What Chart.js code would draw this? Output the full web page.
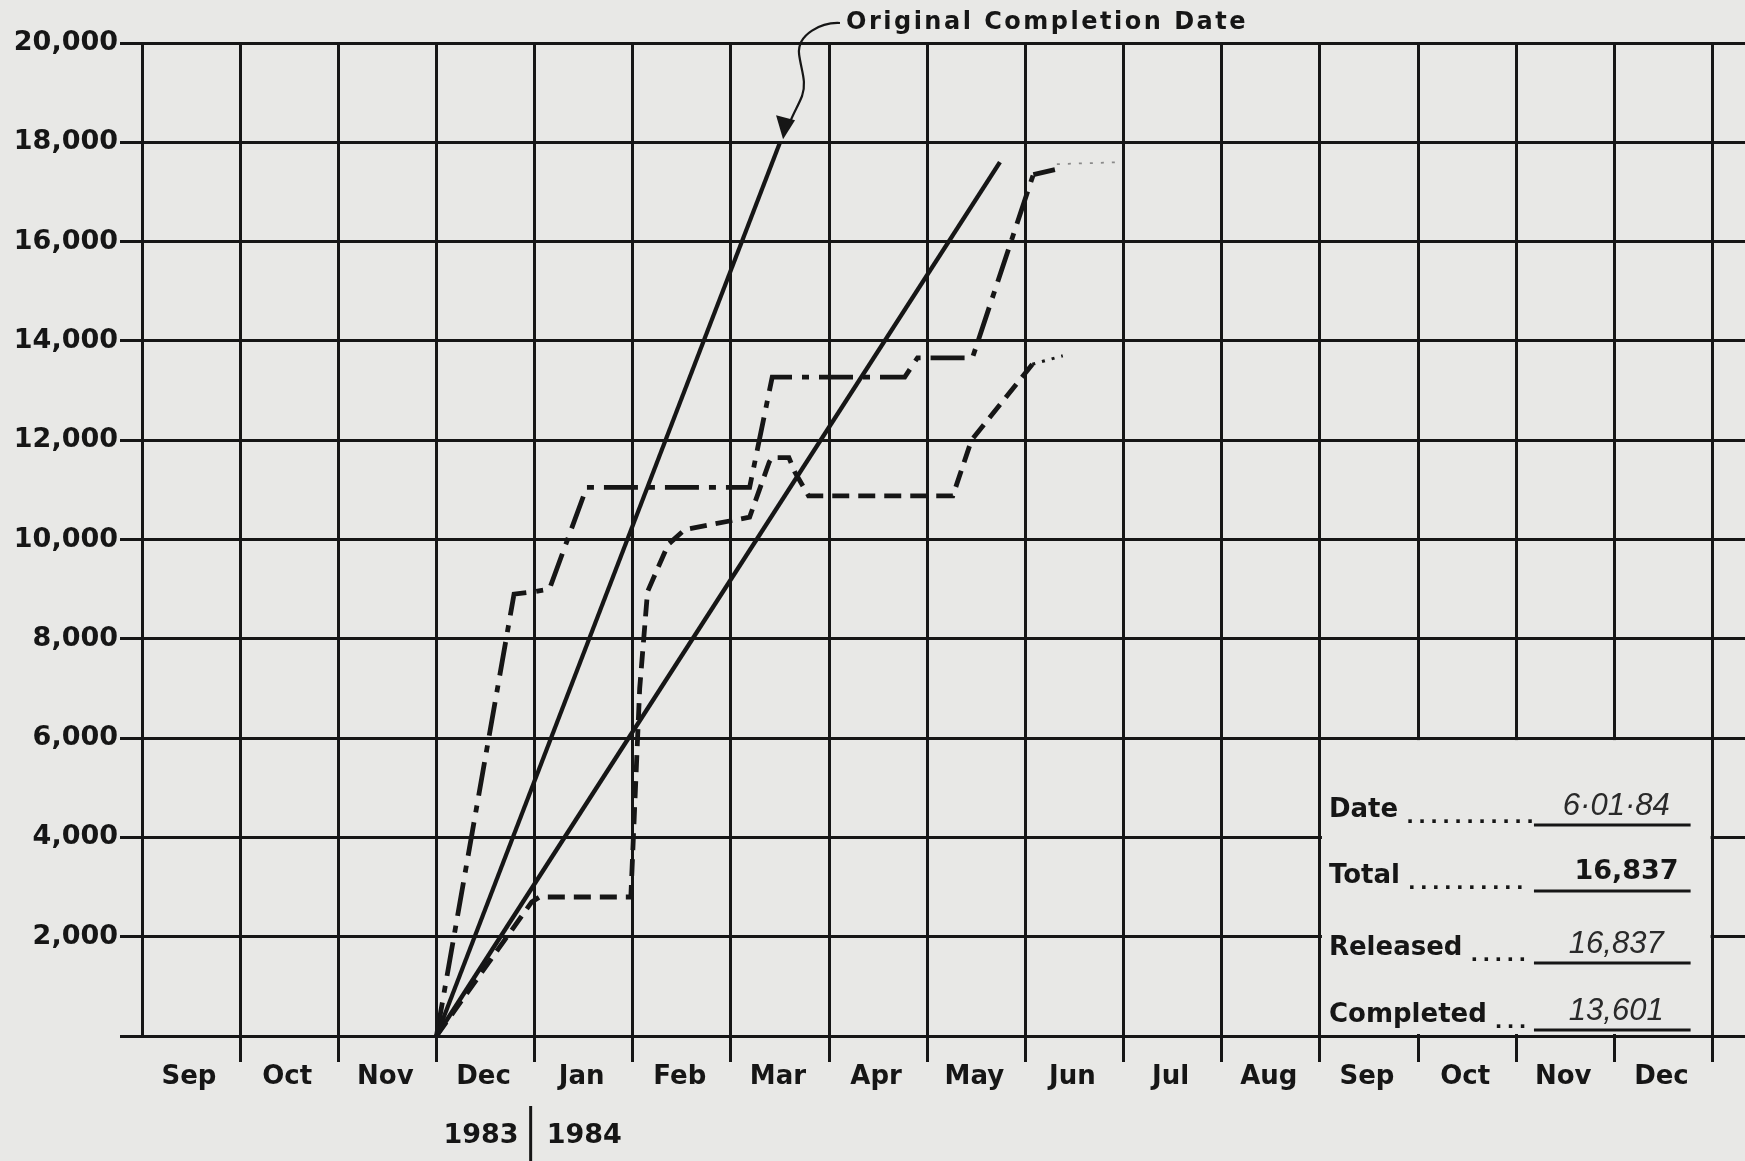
<!DOCTYPE html>
<html><head><meta charset="utf-8">
<script src="https://cdn.jsdelivr.net/npm/chart.js@4/dist/chart.umd.min.js"></script>
<style>html,body{margin:0;padding:0;background:#e8e8e6;overflow:hidden}#wrap{width:1745px;height:1161px}</style>
</head><body><div id="wrap"><canvas id="c" width="1745" height="1161"></canvas></div>
<script>
// ---- data (x = months since start of Sep 1983, y = items) ----
const months = ['Sep','Oct','Nov','Dec','Jan','Feb','Mar','Apr','May','Jun','Jul','Aug','Sep','Oct','Nov','Dec'];
const years = ['1983','1984'];
const yMax = 20000;
const yStep = 2000;

const originalX = [3, 6.5];
const originalY = [0, 18000];

const revisedX = [3, 8.74];
const revisedY = [0, 17600];

const releasedX = [3, 3.79, 4.0, 4.15, 4.53, 6.19, 6.42, 7.77, 7.9, 8.46, 9.08, 9.3];
const releasedY = [0, 8900, 8950, 9000, 11050, 11050, 13270, 13270, 13660, 13660, 17350, 17450];

const releasedTailX = [9.32, 9.98];
const releasedTailY = [17560, 17600];

const completedX = [3, 3.97, 4.05, 4.98, 5.07, 5.15, 5.36, 5.53, 6.19, 6.39, 6.42, 6.59, 6.65, 6.79, 8.26, 8.45, 9.07, 9.38];
const completedY = [0, 2700, 2800, 2800, 7000, 8950, 9900, 10200, 10450, 11560, 11650, 11650, 11360, 10880, 10880, 12000, 13530, 13700];

const boxLabels = ['Date', 'Total', 'Released', 'Completed'];
const boxValues = ['6·01·84', '16,837', '16,837', '13,601'];
const annotationText = 'Original Completion Date';

const pts = (xs, ys) => xs.map((x, i) => ({x: x, y: ys[i]}));
const INK = '#161616';
const BG = '#e8e8e6';

const bgPlugin = {
  id: 'bg',
  beforeDraw(chart) {
    const c = chart.ctx;
    c.save(); c.fillStyle = BG; c.fillRect(0, 0, chart.width, chart.height); c.restore();
  }
};

const boxPlugin = {
  id: 'box',
  beforeDatasetsDraw(chart) {
    const xs = chart.scales.x, ys = chart.scales.y, c = chart.ctx;
    const x1 = xs.getPixelForValue(12), x2 = xs.getPixelForValue(16);
    const yt = ys.getPixelForValue(6000), yb = ys.getPixelForValue(0);
    c.save();
    c.fillStyle = BG;
    c.fillRect(x1 + 2, yt + 2, x2 - x1 - 4, yb - yt - 4);
    const rows = [72, 138, 210, 277];
    const ulStart = x1 + 214, ulEnd = x2 - 22;
    boxLabels.forEach((lab, i) => {
      const ty = yt + rows[i];
      c.font = 'bold 26px "DejaVu Sans"';
      c.fillStyle = INK;
      c.textAlign = 'left'; c.textBaseline = 'middle';
      c.fillText(lab, x1 + 9, ty);
      const lw = c.measureText(lab).width;
      c.font = 'bold 20px "DejaVu Sans"';
      let dx = x1 + 9 + lw + 8;
      while (dx < ulStart - 6) { c.fillText('.', dx, ty + 8); dx += 12; }
      c.strokeStyle = INK; c.lineWidth = 3;
      c.beginPath(); c.moveTo(ulStart, ty + 15); c.lineTo(ulEnd, ty + 15); c.stroke();
      if (i === 1) {
        c.font = 'bold 27px "DejaVu Sans"';
        c.textAlign = 'right';
        c.fillText(boxValues[i], ulEnd - 12, ty - 4);
      } else {
        c.font = 'italic 31px "Liberation Sans"';
        c.fillStyle = '#2a2a2a';
        c.textAlign = 'center';
        c.fillText(boxValues[i], (ulStart + ulEnd) / 2 + 4, ty - 4);
      }
    });
    c.restore();
  }
};

const annoPlugin = {
  id: 'anno',
  afterDraw(chart) {
    const c = chart.ctx, xs = chart.scales.x, ys = chart.scales.y;
    c.save();
    c.fillStyle = INK;
    c.font = 'bold 24px "DejaVu Sans"';
    c.letterSpacing = '2.5px';
    c.textAlign = 'left'; c.textBaseline = 'middle';
    c.fillText(annotationText, 846, 23);
    c.letterSpacing = '0px';
    // curvy leader ending in an arrowhead at the original completion point
    const tx = xs.getPixelForValue(originalX[1]) + 3;
    const ty = ys.getPixelForValue(originalY[1]) - 3;
    c.strokeStyle = INK; c.lineWidth = 2.2;
    c.beginPath();
    c.moveTo(840, 23);
    c.bezierCurveTo(822, 22, tx + 14, 34, tx + 16, 54);
    c.bezierCurveTo(tx + 18, 70, tx + 24, 82, tx + 19, 96);
    c.bezierCurveTo(tx + 15, 106, tx + 11, 112, tx + 7, 122);
    c.stroke();
    c.beginPath();
    c.moveTo(tx - 7, ty - 24); c.lineTo(tx + 12, ty - 19); c.lineTo(tx, ty); c.closePath();
    c.fill();
    // years
    const xd = xs.getPixelForValue(4);
    c.font = 'bold 27px "DejaVu Sans"';
    c.textAlign = 'right';
    c.fillText(years[0], xd - 16, 1136);
    c.textAlign = 'left';
    c.fillText(years[1], xd + 12, 1136);
    c.lineWidth = 3;
    c.beginPath(); c.moveTo(xd - 4, 1106); c.lineTo(xd - 4, 1161); c.stroke();
    c.restore();
  }
};

const last = (arr) => arr.length - 1;

new Chart(document.getElementById('c'), {
  type: 'line',
  data: {
    datasets: [
      { label: 'Original schedule', data: pts(originalX, originalY), borderColor: INK, borderWidth: 4.2, pointRadius: 0, tension: 0 },
      { label: 'Revised schedule', data: pts(revisedX, revisedY), borderColor: INK, borderWidth: 4.4, pointRadius: 0, tension: 0 },
      { label: 'Released', data: pts(releasedX, releasedY), borderColor: INK, borderWidth: 4.8, borderDash: [34, 10, 7, 10], pointRadius: 0, tension: 0,
        segment: { borderDash: ctx => ctx.p1DataIndex === last(releasedX) ? [] : undefined } },
      { label: 'Released (projected)', data: pts(releasedTailX, releasedTailY), borderColor: '#8a8a8a', borderWidth: 1.8, borderDash: [3, 8], pointRadius: 0 },
      { label: 'Completed', data: pts(completedX, completedY), borderColor: INK, borderWidth: 4.8, borderDash: [17, 9], pointRadius: 0, tension: 0,
        segment: { borderDash: ctx => ctx.p1DataIndex === last(completedX) ? [3, 7] : undefined, borderWidth: ctx => ctx.p1DataIndex === last(completedX) ? 3 : undefined } }
    ]
  },
  options: {
    responsive: false,
    animation: false,
    devicePixelRatio: 1,
    layout: { padding: { top: 43, right: 0, bottom: 0, left: 0 } },
    plugins: { legend: { display: false }, tooltip: { enabled: false }, title: { display: false } },
    scales: {
      x: {
        type: 'linear', min: 0, max: 16.33,
        border: { display: false },
        grid: { color: INK, lineWidth: 3, tickLength: 26,
          tickColor: ctx => (ctx.tick && ctx.tick.value === 0) ? 'rgba(0,0,0,0)' : INK },
        ticks: { stepSize: 1, includeBounds: false, autoSkip: false, maxRotation: 0, minRotation: 0,
          labelOffset: 47, padding: 0, color: INK,
          font: { family: 'DejaVu Sans', weight: 'bold', size: 26 },
          callback: v => (Number.isInteger(v) && v >= 0 && v < months.length) ? months[v] : '' },
        afterFit: s => { s.height = 125; }
      },
      y: {
        type: 'linear', min: 0, max: yMax,
        border: { display: false },
        grid: { color: INK, lineWidth: 3, tickLength: 22 },
        ticks: { stepSize: yStep, padding: 2, color: INK,
          font: { family: 'DejaVu Sans', weight: 'bold', size: 27 },
          callback: v => v === 0 ? '' : v.toLocaleString('en-US') },
        afterFit: s => { s.width = 142; }
      }
    }
  },
  plugins: [bgPlugin, boxPlugin, annoPlugin]
});
</script>
</body></html>
